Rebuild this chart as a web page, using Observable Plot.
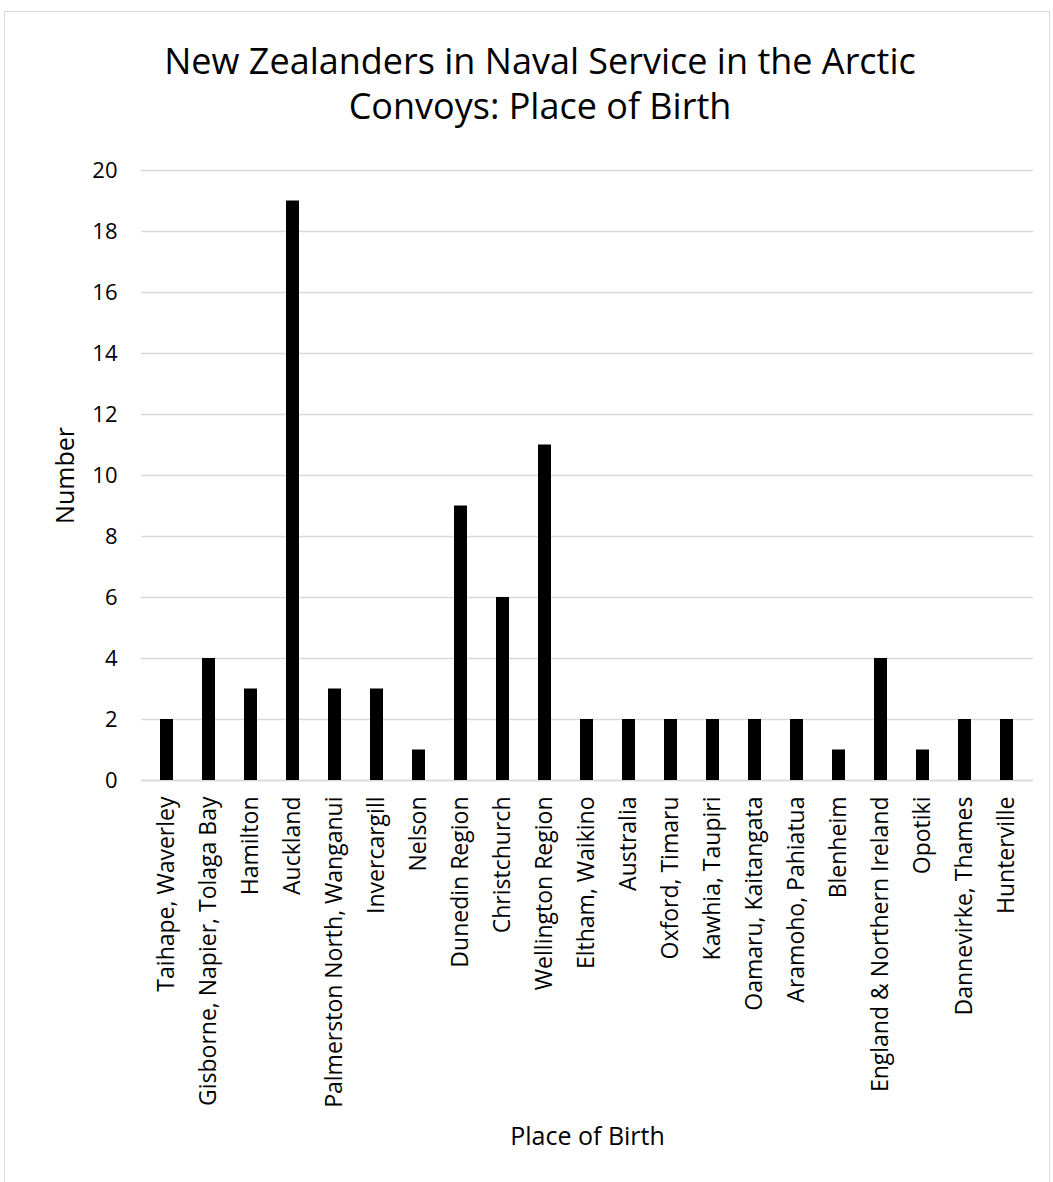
<!DOCTYPE html>
<html>
<head>
<meta charset="utf-8">
<script src="https://cdn.jsdelivr.net/npm/d3@7"></script>
<script src="https://cdn.jsdelivr.net/npm/@observablehq/plot@0.6"></script>
<style>
  html, body { margin: 0; padding: 0; background: #fff; }
  #wrap { position: relative; width: 1053px; height: 1182px; overflow: hidden; font-family: "Open Sans", sans-serif; }
  #border { position: absolute; left: 4px; top: 11px; width: 1046px; height: 1200px; border: 1px solid #d9d9d9; box-sizing: border-box; }
  #title { position: absolute; left: 0; top: 38px; width: 1080px; text-align: center; font-size: 36px; line-height: 45px; color: #000; }
  #chart { position: absolute; left: 0; top: 150px; }
</style>
</head>
<body>
<div id="wrap">
  <div id="border"></div>
  <div id="title">New Zealanders in Naval Service in the Arctic<br>Convoys: Place of Birth</div>
  <div id="chart"></div>
</div>
<script>
const places = [
  "Taihape, Waverley",
  "Gisborne, Napier, Tolaga Bay",
  "Hamilton",
  "Auckland",
  "Palmerston North, Wanganui",
  "Invercargill",
  "Nelson",
  "Dunedin Region",
  "Christchurch",
  "Wellington Region",
  "Eltham, Waikino",
  "Australia",
  "Oxford, Timaru",
  "Kawhia, Taupiri",
  "Oamaru, Kaitangata",
  "Aramoho, Pahiatua",
  "Blenheim",
  "England & Northern Ireland",
  "Opotiki",
  "Dannevirke, Thames",
  "Hunterville"
];
const counts = [2, 4, 3, 19, 3, 3, 1, 9, 6, 11, 2, 2, 2, 2, 2, 2, 1, 4, 1, 2, 2];
const yTicks = [0, 2, 4, 6, 8, 10, 12, 14, 16, 18, 20];

const data = places.map((p, i) => ({place: p, count: counts[i]}));

const chart = Plot.plot({
  width: 1053,
  height: 1032,
  marginTop: 20,
  marginBottom: 402,
  marginLeft: 141,
  marginRight: 20,
  style: {fontFamily: "Open Sans, sans-serif", fontSize: "22px", color: "#000", background: "transparent"},
  x: {domain: places, paddingInner: 0.69, paddingOuter: 0.345, label: null},
  y: {domain: [0, 20], label: null},
  marks: [
    Plot.gridY(yTicks, {stroke: "#d9d9d9", strokeOpacity: 1, strokeWidth: 1.3}),
    Plot.ruleY([0], {stroke: "#d9d9d9", strokeWidth: 1.5}),
    Plot.barY(data, {x: "place", y: "count", fill: "#000"}),
    Plot.axisY(yTicks, {tickSize: 0, tickPadding: 24, fontSize: 22, label: null}),
    Plot.axisX({tickSize: 0, tickRotate: -90, tickPadding: 16, fontSize: 23, label: null}),
    Plot.text(["Number"], {frameAnchor: "left", textAnchor: "middle", dx: -76, rotate: -90, fontSize: 25}),
    Plot.text(["Place of Birth"], {frameAnchor: "bottom", dy: 364, fontSize: 25})
  ]
});
document.getElementById("chart").appendChild(chart);
</script>
</body>
</html>
